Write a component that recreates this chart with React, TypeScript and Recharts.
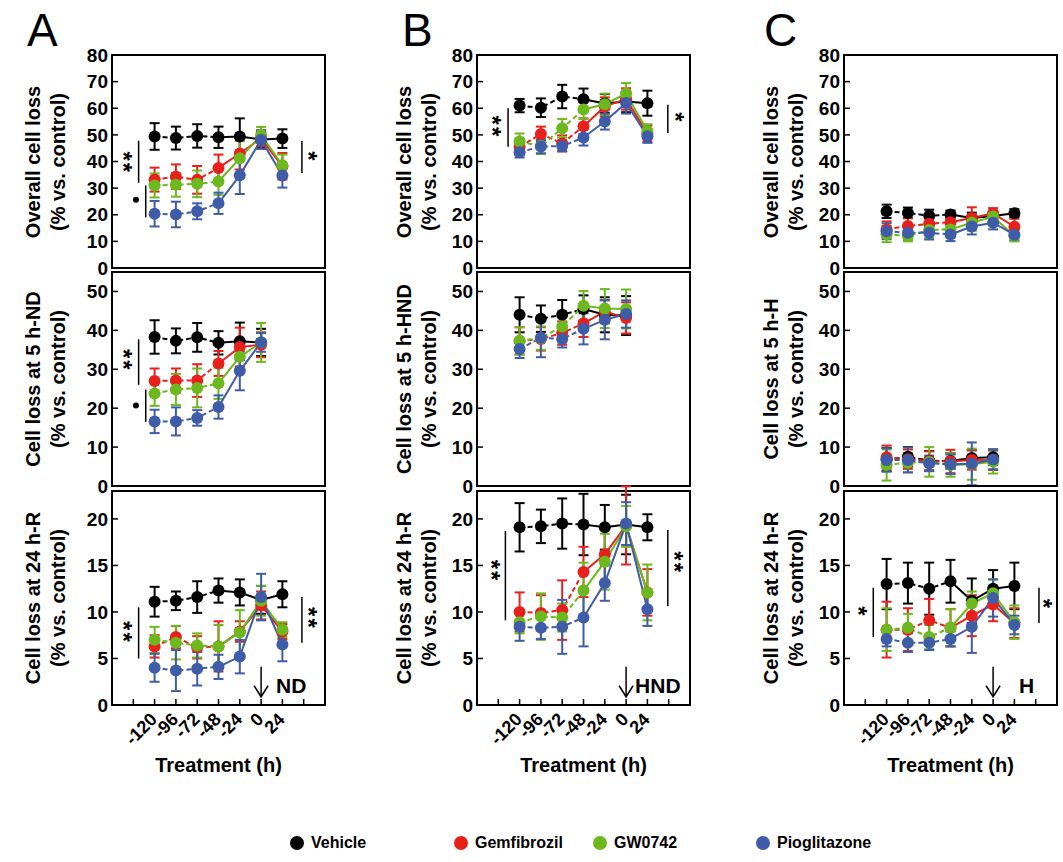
import React from "react";
import {
  LineChart,
  Line,
  XAxis,
  YAxis,
  ErrorBar,
  ReferenceArea,
  ReferenceLine,
  ReferenceDot,
} from "recharts";

const FONT = '"Liberation Sans", Arial, Helvetica, sans-serif';

const hours = [-120, -96, -72, -48, -24, 0, 24];
const hourTicks = [-144, -120, -96, -72, -48, -24, 0, 24, 48];

const seriesNames = ["Vehicle", "Gemfibrozil", "GW0742", "Pioglitazone"];
const seriesColors = ["#000000", "#e8201c", "#6cb81e", "#3f5ca8"];

// order inside each: Vehicle, Gemfibrozil, GW0742, Pioglitazone
const aOverall = [
  [49.4, 48.8, 49.6, 49.1, 49.4, 48.3, 48.6],
  [33.2, 34.3, 33.1, 37.6, 43, 48.7, 38.2],
  [31, 31.3, 31.6, 32.5, 41.2, 50, 38.6],
  [20.4, 20.1, 21.3, 24.3, 34.8, 48.2, 34.7],
];
const aOverallErr = [
  [5, 4.3, 4.4, 4, 6.8, 3, 3.5],
  [4.5, 4.6, 5.2, 5, 6, 3, 5],
  [4.5, 4.5, 5, 5, 6.5, 3, 4],
  [4.8, 4.8, 3, 4, 7, 3.5, 4.5],
];
const aFive = [
  [38.3, 37.3, 38.2, 36.8, 37.2, 36.9],
  [27, 27.1, 27.1, 31.5, 35.7, 36.3],
  [23.8, 24.8, 25.2, 26.4, 33.2, 36.9],
  [16.6, 16.6, 17.5, 20.3, 29.6, 36.9],
];
const aFiveErr = [
  [4.3, 3.2, 3.7, 3, 4.8, 3.5],
  [3.2, 3.1, 4.2, 3.2, 5, 3.2],
  [3.2, 4, 5, 4, 3, 5],
  [3, 3.6, 2, 3, 5, 2.4],
];
const aDay = [
  [11.1, 11.2, 11.6, 12.3, 12.1, 11.3, 11.9],
  [6.3, 7.3, 6.2, 6.3, 7.9, 10.7, 7.9],
  [7, 6.7, 6.4, 6.3, 7.8, 11.2, 8.1],
  [4, 3.7, 3.9, 4.1, 5.2, 11.6, 6.5],
];
const aDayErr = [
  [1.6, 1, 1.7, 1.3, 1.4, 1.5, 1.4],
  [1.2, 1.2, 1.2, 2.7, 1.1, 1.5, 0.8],
  [1.4, 1.8, 1.3, 2.3, 2.4, 1.6, 0.8],
  [1.5, 2.2, 1.8, 1.3, 1.8, 2.5, 1.8],
];

const bOverall = [
  [61, 60.2, 64.4, 63.4, 61.8, 62.5, 61.9],
  [45.5, 50.3, 46.8, 53.2, 60.6, 63.5, 50.5],
  [47.5, 45.8, 52.5, 59.5, 61.5, 65.5, 51.5],
  [43.5, 45.6, 45.8, 49, 55, 62, 49.5],
];
const bOverallErr = [
  [2.5, 3.5, 4.4, 4, 3.5, 4, 4.7],
  [3, 2.8, 3, 3, 3.5, 4, 3],
  [3, 3, 3.5, 3.5, 4, 4, 2.5],
  [2, 2.5, 2, 3, 3, 4, 2.5],
];
const bFive = [
  [44, 43, 44, 45.5, 44, 43.8],
  [37.3, 37.8, 39.3, 41.8, 44.8, 43.2],
  [37.3, 38, 41, 46.3, 45.6, 45.5],
  [35.2, 38.1, 37.8, 40.4, 42.7, 44.2],
];
const bFiveErr = [
  [4.5, 3.4, 3.8, 3.5, 4.5, 5],
  [3.5, 3, 3, 3.5, 3, 4],
  [3.5, 3, 4, 3.8, 5, 5],
  [2.3, 5, 2.2, 4, 5, 3.5],
];
const bDay = [
  [19.1, 19.2, 19.5, 19.4, 19.1, 19.4, 19.1],
  [10, 9.9, 10.2, 14.3, 16.2, 19.3, 12.1],
  [8.9, 9.5, 9.4, 12.3, 15.4, 19.2, 12.1],
  [8.4, 8.3, 8.4, 9.4, 13.1, 19.5, 10.3],
];
const bDayErr = [
  [2.6, 1.8, 2.7, 3.3, 2.4, 3.2, 1.4],
  [2.1, 1.9, 3.2, 2.7, 3, 4.2, 2.5],
  [1.2, 2.5, 1.5, 3, 3, 2.2, 3],
  [1.5, 1.2, 2.9, 3.1, 1.9, 2.3, 1.8],
];

const cOverall = [
  [21.3, 20.7, 19.6, 20.1, 18.8, 19.5, 20.6],
  [14.5, 15.8, 16.6, 17.2, 18.8, 20.5, 15.5],
  [12.7, 12, 14.3, 14.5, 17, 19.3, 12],
  [13.8, 13.2, 13.2, 12.6, 15.6, 17, 12.5],
];
const cOverallErr = [
  [2.5, 2, 2.3, 1.5, 2, 1.5, 1.5],
  [3, 3, 3, 3, 4, 2, 3],
  [3, 2, 3, 3, 3, 2, 2],
  [3, 2.5, 2.5, 2.5, 3, 2.5, 2],
];
const cFive = [
  [6.8, 7.5, 6.5, 6.4, 7.2, 7.4],
  [7.4, 6.9, 6.4, 6.3, 6.7, 6.6],
  [5.4, 6, 6.2, 5.4, 5.6, 6.2],
  [6.7, 6.7, 5.8, 5.6, 5.7, 6.8],
];
const cFiveErr = [
  [3, 2.5, 2.5, 2, 2, 2],
  [3, 2.5, 2.5, 3, 2.5, 2.5],
  [4, 2.5, 3.8, 3, 4, 3],
  [3, 3.2, 2, 2.5, 5.5, 2.5],
];
const cDay = [
  [13, 13.1, 12.5, 13.3, 11.2, 12.5, 12.8],
  [8.1, 8.1, 9.1, 8.3, 9.6, 10.8, 8.8],
  [8.1, 8.3, 7.3, 8.3, 10.9, 12, 8.9],
  [7.1, 6.7, 6.7, 7.1, 8.4, 11.5, 8.6],
];
const cDayErr = [
  [2.7, 2.2, 2.8, 2.3, 2.4, 2, 2.5],
  [3, 2.3, 2.3, 2, 2.2, 1.8, 1.6],
  [2.3, 1.5, 1.3, 2, 1.3, 1.5, 1.8],
  [0.8, 1, 0.8, 0.8, 2.8, 2, 1],
];

const rowSpecs = [
  { top: 55, height: 213, max: 80, ticks: [0, 10, 20, 30, 40, 50, 60, 70, 80], minor: [5, 15, 25, 35, 45, 55, 65, 75] },
  { top: 272, height: 214, max: 55, ticks: [0, 10, 20, 30, 40, 50], minor: [5, 15, 25, 35, 45] },
  { top: 491, height: 214, max: 23, ticks: [0, 5, 10, 15, 20], minor: [2.5, 7.5, 12.5, 17.5] },
];

function buildRows(means: number[][], errs: number[][]) {
  const n = means[0].length;
  return hours.slice(0, n).map((h, i) => {
    const row: any = { h };
    means.forEach((m, s) => {
      row[`s${s}`] = m[i];
      row[`e${s}`] = errs[s][i];
      row[`p${s}`] = h <= -48 ? m[i] : null;
      row[`q${s}`] = h >= -48 ? m[i] : null;
    });
    return row;
  });
}

const XTick = (props: any) => {
  const { x, y, payload } = props;
  if (!hours.includes(payload.value)) return null;
  return (
    <text
      x={x}
      y={y}
      dy={5}
      transform={`rotate(-45 ${x} ${y})`}
      textAnchor="end"
      fontSize={18}
      fontWeight="bold"
      fontFamily={FONT}
      fill="#000"
    >
      {payload.value}
    </text>
  );
};

const Stars = (props: any) => {
  const { cx, cy, text } = props;
  return (
    <text
      x={cx}
      y={cy}
      dy="0.55em"
      transform={`rotate(90 ${cx} ${cy})`}
      textAnchor="middle"
      fontSize={24}
      letterSpacing={2}
      fontWeight="bold"
      fontFamily={FONT}
      fill="#000"
    >
      {text}
    </text>
  );
};

const Arrow = (props: any) => {
  const { cx, cy, text, dx } = props;
  return (
    <g>
      <line x1={cx} y1={cy - 15} x2={cx} y2={cy + 15} stroke="#000" strokeWidth={1.5} />
      <polyline
        points={`${cx - 7},${cy + 4} ${cx},${cy + 15} ${cx + 7},${cy + 4}`}
        fill="none"
        stroke="#000"
        strokeWidth={1.5}
      />
      <text x={cx + dx} y={cy + 11} fontSize={21} fontWeight="bold" fontFamily={FONT} fill="#000">
        {text}
      </text>
    </g>
  );
};

type Mark =
  | { kind: "bar"; x: number; y1: number; y2: number }
  | { kind: "star"; x: number; y: number; text: string }
  | { kind: "dot"; x: number; y: number };

const PW = 213;
const LW = 90;
const MT = 12;

function Panel(props: {
  left: number;
  row: number;
  means: number[][];
  errs: number[][];
  marks?: Mark[];
  arrow?: { text: string; dx: number };
}) {
  const spec = rowSpecs[props.row];
  const showX = props.row === 2;
  const XH = showX ? 80 : 12;
  const data = buildRows(props.means, props.errs);
  const marks = props.marks || [];
  return (
    <div style={{ position: "absolute", left: props.left - LW, top: spec.top - MT }}>
      <LineChart
        width={LW + PW + 4}
        height={MT + spec.height + XH}
        data={data}
        margin={{ top: MT, right: 4, bottom: 0, left: 0 }}
      >
        <XAxis
          dataKey="h"
          type="number"
          domain={[-168, 72]}
          ticks={hourTicks}
          interval={0}
          allowDataOverflow
          height={XH}
          axisLine={{ stroke: "#000", strokeWidth: 2 }}
          tickLine={{ stroke: "#000", strokeWidth: 1.5 }}
          tickSize={-6}
          tickMargin={18}
          tick={showX ? <XTick /> : false}
          label={
            showX
              ? {
                  value: "Treatment (h)",
                  position: "insideBottom",
                  offset: 13,
                  fill: "#000",
                  fontSize: 20,
                  fontWeight: "bold",
                  fontFamily: FONT,
                }
              : undefined
          }
        />
        <YAxis
          type="number"
          domain={[0, spec.max]}
          ticks={spec.ticks}
          interval={0}
          allowDataOverflow
          width={LW}
          axisLine={{ stroke: "#000", strokeWidth: 2 }}
          tickLine={{ stroke: "#000", strokeWidth: 1.5 }}
          tickSize={-6}
          tickMargin={10}
          tick={{ fill: "#000", fontSize: 19, fontWeight: "bold", fontFamily: FONT }}
        />
        <YAxis
          yAxisId="m"
          mirror
          type="number"
          domain={[0, spec.max]}
          ticks={spec.minor}
          interval={0}
          allowDataOverflow
          axisLine={false}
          tickLine={{ stroke: "#000", strokeWidth: 1.2 }}
          tickSize={3}
          tick={false}
        />
        <ReferenceArea
          x1={-168}
          x2={72}
          y1={0}
          y2={spec.max}
          fill="none"
          stroke="#000"
          strokeWidth={2}
          ifOverflow="visible"
        />
        {seriesColors.map((c, s) => [
          <Line
            key={`p${s}`}
            dataKey={`p${s}`}
            stroke={c}
            strokeWidth={2}
            strokeDasharray="5 3"
            dot={false}
            activeDot={false}
            isAnimationActive={false}
          />,
          <Line
            key={`q${s}`}
            dataKey={`q${s}`}
            stroke={c}
            strokeWidth={2}
            dot={false}
            activeDot={false}
            isAnimationActive={false}
          />,
          <Line
            key={`s${s}`}
            dataKey={`s${s}`}
            name={seriesNames[s]}
            stroke="none"
            dot={{ r: 6, fill: c, stroke: c, strokeWidth: 0 }}
            activeDot={false}
            isAnimationActive={false}
          >
            <ErrorBar
              dataKey={`e${s}`}
              width={5}
              strokeWidth={2}
              stroke={c}
              direction="y"
              isAnimationActive={false}
            />
          </Line>,
        ])}
        {marks.map((m, i) => {
          if (m.kind === "bar")
            return (
              <ReferenceLine
                key={`m${i}`}
                segment={[
                  { x: m.x, y: m.y1 },
                  { x: m.x, y: m.y2 },
                ]}
                stroke="#000"
                strokeWidth={1.5}
              />
            );
          if (m.kind === "dot")
            return <ReferenceDot key={`m${i}`} x={m.x} y={m.y} r={3} fill="#000" stroke="none" />;
          return (
            <ReferenceDot
              key={`m${i}`}
              x={m.x}
              y={m.y}
              r={1}
              shape={(p: any) => <Stars {...p} text={m.text} />}
            />
          );
        })}
        {props.arrow && (
          <ReferenceDot
            x={0}
            y={2.5}
            r={1}
            shape={(p: any) => <Arrow {...p} text={props.arrow!.text} dx={props.arrow!.dx} />}
          />
        )}
      </LineChart>
    </div>
  );
}

const columnLeft = [112, 477, 844];
const labelCenter = [46, 417, 784];
const yLabels = [
  ["Overall cell loss", "Cell loss at 5 h-ND", "Cell loss at 24 h-R"],
  ["Overall cell loss", "Cell loss at 5 h-HND", "Cell loss at 24 h-R"],
  ["Overall cell loss", "Cell loss at 5 h-H", "Cell loss at 24 h-R"],
];
const letters = ["A", "B", "C"];
const letterLeft = [27, 402, 764];

const YLabel = ({ cx, cy, text }: { cx: number; cy: number; text: string }) => (
  <div
    style={{
      position: "absolute",
      left: cx - 130,
      top: cy - 25,
      width: 260,
      height: 50,
      lineHeight: "25px",
      textAlign: "center",
      transform: "rotate(-90deg)",
      fontSize: 20,
      fontWeight: "bold",
      whiteSpace: "nowrap",
      color: "#000",
    }}
  >
    <div>{text}</div>
    <div>(% vs. control)</div>
  </div>
);

const legendLeft = [290, 454, 593, 756];

export default function App() {
  return (
    <div
      style={{
        position: "absolute",
        left: 0,
        top: 0,
        width: 1063,
        height: 862,
        background: "#fff",
        fontFamily: FONT,
        overflow: "hidden",
      }}
    >
      {letters.map((l, i) => (
        <div
          key={l}
          style={{ position: "absolute", left: letterLeft[i], top: 4, fontSize: 46, lineHeight: "52px", color: "#000" }}
        >
          {l}
        </div>
      ))}
      {yLabels.map((col, c) =>
        col.map((t, r) => (
          <YLabel
            key={`${c}-${r}`}
            cx={labelCenter[c]}
            cy={rowSpecs[r].top + rowSpecs[r].height / 2}
            text={t}
          />
        ))
      )}

      <Panel
        left={columnLeft[0]}
        row={0}
        means={aOverall}
        errs={aOverallErr}
        marks={[
          { kind: "bar", x: -138, y1: 47.8, y2: 32 },
          { kind: "star", x: -150, y: 39.5, text: "**" },
          { kind: "bar", x: -130, y1: 31, y2: 19 },
          { kind: "dot", x: -141, y: 25.6 },
          { kind: "bar", x: 46, y1: 47.7, y2: 35.7 },
          { kind: "star", x: 58.5, y: 41.7, text: "*" },
        ]}
      />
      <Panel
        left={columnLeft[0]}
        row={1}
        means={aFive}
        errs={aFiveErr}
        marks={[
          { kind: "bar", x: -138, y1: 37.7, y2: 26 },
          { kind: "star", x: -150, y: 32.3, text: "**" },
          { kind: "bar", x: -130, y1: 24.8, y2: 16.5 },
          { kind: "dot", x: -141, y: 20.7 },
        ]}
      />
      <Panel
        left={columnLeft[0]}
        row={2}
        means={aDay}
        errs={aDayErr}
        marks={[
          { kind: "bar", x: -138, y1: 10.5, y2: 5 },
          { kind: "star", x: -150, y: 7.8, text: "**" },
          { kind: "bar", x: 46, y1: 11.6, y2: 6.7 },
          { kind: "star", x: 58.5, y: 9.3, text: "**" },
        ]}
        arrow={{ text: "ND", dx: 15 }}
      />

      <Panel
        left={columnLeft[1]}
        row={0}
        means={bOverall}
        errs={bOverallErr}
        marks={[
          { kind: "bar", x: -133, y1: 60, y2: 45.5 },
          { kind: "star", x: -145.6, y: 53, text: "**" },
          { kind: "bar", x: 47, y1: 61.3, y2: 50.7 },
          { kind: "star", x: 60.5, y: 56.4, text: "*" },
        ]}
      />
      <Panel left={columnLeft[1]} row={1} means={bFive} errs={bFiveErr} />
      <Panel
        left={columnLeft[1]}
        row={2}
        means={bDay}
        errs={bDayErr}
        marks={[
          { kind: "bar", x: -136, y1: 18.7, y2: 9.1 },
          { kind: "star", x: -146, y: 14.4, text: "**" },
          { kind: "bar", x: 47, y1: 18.8, y2: 10.6 },
          { kind: "star", x: 59.5, y: 15.3, text: "**" },
        ]}
        arrow={{ text: "HND", dx: 9 }}
      />

      <Panel left={columnLeft[2]} row={0} means={cOverall} errs={cOverallErr} />
      <Panel left={columnLeft[2]} row={1} means={cFive} errs={cFiveErr} />
      <Panel
        left={columnLeft[2]}
        row={2}
        means={cDay}
        errs={cDayErr}
        marks={[
          { kind: "bar", x: -135, y1: 12.6, y2: 7.3 },
          { kind: "star", x: -146.6, y: 10, text: "*" },
          { kind: "bar", x: 51.7, y1: 12.6, y2: 8.8 },
          { kind: "star", x: 61.8, y: 10.8, text: "*" },
        ]}
        arrow={{ text: "H", dx: 26 }}
      />

      {seriesNames.map((n, i) => (
        <div
          key={n}
          style={{
            position: "absolute",
            left: legendLeft[i],
            top: 834,
            height: 18,
            display: "flex",
            alignItems: "center",
            fontSize: 16,
            fontWeight: "bold",
            color: "#000",
          }}
        >
          <span
            style={{
              display: "inline-block",
              width: 14,
              height: 14,
              borderRadius: 7,
              background: seriesColors[i],
              marginRight: 7,
            }}
          />
          {n}
        </div>
      ))}
    </div>
  );
}
